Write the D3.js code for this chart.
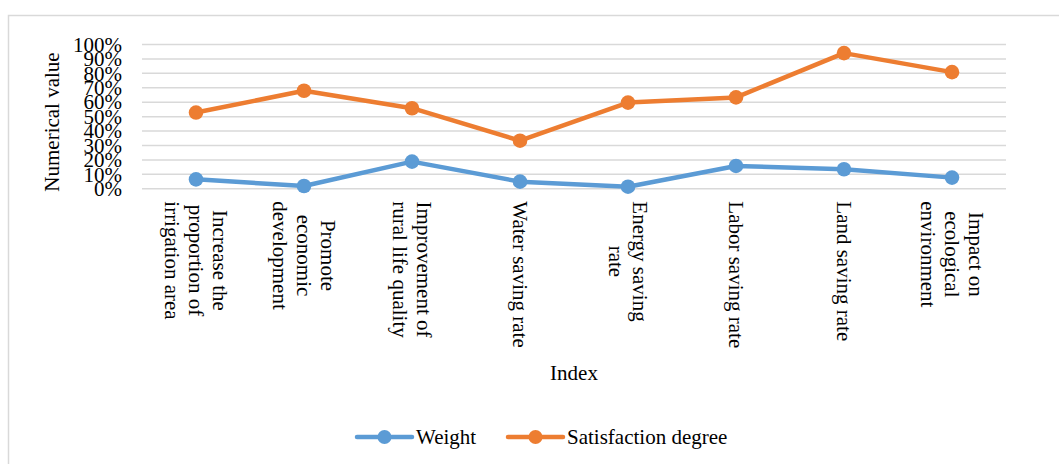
<!DOCTYPE html>
<html><head><meta charset="utf-8">
<script src="https://cdn.jsdelivr.net/npm/d3@7/dist/d3.min.js"></script>
<style>
html,body{margin:0;padding:0;background:#fff;}
text{font-family:"Liberation Serif","Times New Roman",serif;fill:#000;}
</style></head>
<body><svg id="c" width="1059" height="464"></svg>
<script>
const categories = [
  ["Increase the","proportion of","irrigation area"],
  ["Promote","economic","development"],
  ["Improvement of","rural life quality"],
  ["Water saving rate"],
  ["Energy saving","rate"],
  ["Labor saving rate"],
  ["Land saving rate"],
  ["Impact on","ecological","environment"]
];
const weight = [0.062, 0.016, 0.185, 0.046, 0.011, 0.155, 0.132, 0.074];
const satisfaction = [0.525, 0.676, 0.555, 0.33, 0.594, 0.63, 0.937, 0.805];
const yTicks = [0,0.1,0.2,0.3,0.4,0.5,0.6,0.7,0.8,0.9,1.0];
const seriesNames = ["Weight","Satisfaction degree"];
const colors = ["#5B9BD5","#ED7D31"];

(function(){
const svg = d3.select("#c");
// outer chart border
svg.append("rect").attr("x",8.5).attr("y",15.5).attr("width",1080).attr("height",480)
  .attr("fill","none").attr("stroke","#d9d9d9").attr("stroke-width",1.5);

const pL=142, pR=1006, pT=44, pB=188.3;
const keys = categories.map((d,i)=>i);
const x = d3.scaleBand().domain(keys).range([pL,pR]);
const y = d3.scaleLinear().domain([0,1]).range([pB,pT]);
const fs = 21;

// gridlines
const grid = svg.append("g").attr("transform",`translate(${pL},0)`)
  .call(d3.axisLeft(y).tickValues(yTicks).tickSize(-(pR-pL)).tickFormat(""));
grid.select(".domain").remove();
grid.selectAll("line").attr("stroke","#d9d9d9").attr("stroke-width",1.5);

// y tick labels
const ya = svg.append("g").attr("transform",`translate(122,0)`)
  .call(d3.axisLeft(y).tickValues(yTicks).tickSize(0).tickPadding(0).tickFormat(d3.format(".0%")));
ya.select(".domain").remove();
ya.selectAll("text").attr("font-size",fs).attr("font-family","Liberation Serif").attr("dy","0.34em").attr("fill","#000");

// x axis labels
const xa = svg.append("g").attr("transform",`translate(0,${pB})`)
  .call(d3.axisBottom(x).tickSize(0).tickFormat(""));
xa.select(".domain").remove();
xa.selectAll(".tick").each(function(d){
  const g = d3.select(this);
  g.select("text").remove();
  const lines = categories[d];
  const n = lines.length;
  const tg = g.append("g").attr("transform",`translate(0,13) rotate(90)`);
  const ts = lines.map((l,i)=> tg.append("text").text(l).attr("font-size",fs)
      .attr("y",(i-(n-1)/2)*24).attr("dy","0.33em").attr("fill","#000"));
  const maxW = d3.max(ts, t=>t.node().getComputedTextLength());
  ts.forEach(t=>t.attr("x",maxW/2).attr("text-anchor","middle"));
});

// lines
const series = [weight, satisfaction];
const line = d3.line().x((d,i)=>x(i)+x.bandwidth()/2).y(d=>y(d));
series.forEach((s,k)=>{
  svg.append("path").datum(s).attr("d",line).attr("fill","none")
    .attr("stroke",colors[k]).attr("stroke-width",4.5).attr("stroke-linejoin","round").attr("stroke-linecap","round");
  svg.append("g").selectAll("circle").data(s).join("circle")
    .attr("cx",(d,i)=>x(i)+x.bandwidth()/2).attr("cy",d=>y(d)).attr("r",7.3).attr("fill",colors[k]);
});

// axis titles
svg.append("text").attr("transform","translate(59,122) rotate(-90)").attr("text-anchor","middle")
  .attr("font-size",fs).text("Numerical value");
svg.append("text").attr("x",(pL+pR)/2).attr("y",380).attr("text-anchor","middle")
  .attr("font-size",fs).text("Index");

// legend
const legX = [357, 508];
seriesNames.forEach((n,k)=>{
  const g = svg.append("g").attr("transform",`translate(${legX[k]},437)`);
  g.append("line").attr("x1",0).attr("x2",55).attr("stroke",colors[k]).attr("stroke-width",4.5).attr("stroke-linecap","round");
  g.append("circle").attr("cx",27.5).attr("r",7).attr("fill",colors[k]);
  g.append("text").attr("x",59).attr("dy","0.33em").attr("font-size",fs).text(n);
});
})();
</script></body></html>
